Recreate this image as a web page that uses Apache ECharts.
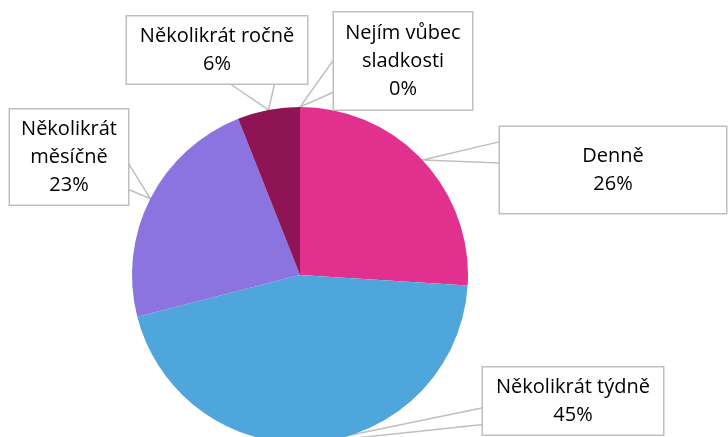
<!DOCTYPE html>
<html lang="cs">
<head>
<meta charset="utf-8">
<title>Jak často jíte sladkosti</title>
<script src="https://cdn.jsdelivr.net/npm/echarts@6/dist/echarts.min.js"></script>
<style>
  html, body { margin: 0; padding: 0; background: #fff; }
  #chart { width: 728px; height: 437px; }
</style>
</head>
<body>
<div id="chart"></div>
<script>
// data
var categories = ['Denně', 'Několikrát týdně', 'Několikrát měsíčně', 'Několikrát ročně', 'Nejím vůbec sladkosti'];
var labelTexts = ['Denně', 'Několikrát týdně', 'Několikrát\nměsíčně', 'Několikrát ročně', 'Nejím vůbec\nsladkosti'];
var shares = [26, 45, 23, 6, 0];
var colors = ['#E2308E', '#4FA6DC', '#8B73E0', '#8E1456', '#7F7F7F'];

// callout boxes: centre x, centre y, width, height
var boxes = [
    [613, 170, 226, 86],
    [573, 401, 180, 67],
    [69, 157, 118, 95],
    [217, 50, 180, 67],
    [403, 61, 138, 97]
];
// wedge base of each callout: side, start and end as fraction of that side
var wedges = [
    ['left', 0.17, 0.42],
    ['left', 0.60, 0.85],
    ['right', 0.56, 0.84],
    ['bottom', 0.57, 0.82],
    ['left', 0.48, 0.82]
];

function sidePoint(b, side, f) {
    var l = b[0] - b[2] / 2, t = b[1] - b[3] / 2;
    if (side === 'left') return [l, t + b[3] * f];
    if (side === 'right') return [l + b[2], t + b[3] * f];
    if (side === 'top') return [l + b[2] * f, t];
    return [l + b[2] * f, t + b[3]];
}

var chart = echarts.init(document.getElementById('chart'));

var pieData = categories.map(function (name, i) {
    return {
        name: name,
        value: shares[i],
        itemStyle: { color: colors[i] },
        label: {
            width: boxes[i][2] - 4,
            height: boxes[i][3] - 4
        }
    };
});

var option = {
    animation: false,
    series: [{
        type: 'pie',
        center: [300, 275],
        radius: 168,
        startAngle: 90,
        clockwise: true,
        data: pieData,
        label: {
            show: true,
            formatter: function (p) {
                return labelTexts[p.dataIndex] + '\n' + p.value + '%';
            },
            fontFamily: 'Open Sans',
            fontSize: 20,
            lineHeight: 28,
            color: '#000',
            align: 'center',
            verticalAlign: 'middle',
            backgroundColor: '#fff',
            borderColor: '#BFBFBF',
            borderWidth: 1.5,
            padding: 2
        },
        labelLine: {
            show: true,
            lineStyle: { color: '#BFBFBF', width: 1.5 }
        },
        labelLayout: function (params) {
            var i = params.dataIndex;
            var b = boxes[i];
            var w = wedges[i];
            var tip = params.labelLinePoints ? params.labelLinePoints[0] : [300, 107];
            return {
                x: b[0],
                y: b[1],
                align: 'center',
                verticalAlign: 'middle',
                labelLinePoints: [sidePoint(b, w[0], w[1]), tip, sidePoint(b, w[0], w[2])]
            };
        }
    }]
};

chart.setOption(option);
</script>
</body>
</html>
